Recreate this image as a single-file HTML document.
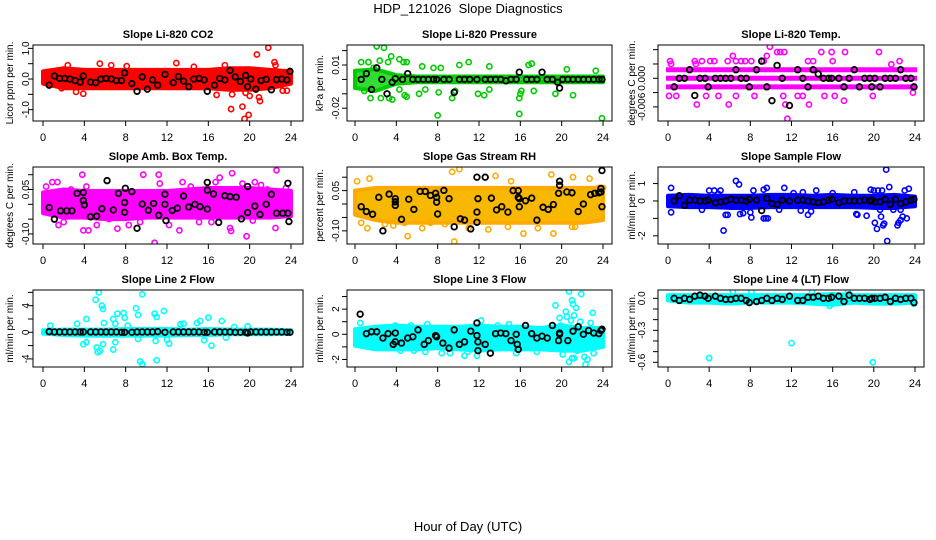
<!DOCTYPE html>
<html><head><meta charset="utf-8"><title>HDP_121026 Slope Diagnostics</title>
<style>body{margin:0;background:#fff}svg{display:block;font-family:"Liberation Sans",Arial,sans-serif}</style>
</head><body>
<svg id="chart" width="936" height="540" viewBox="0 0 936 540" xmlns="http://www.w3.org/2000/svg">
<text x="468" y="13" text-anchor="middle" font-size="13" style="white-space:pre">HDP_121026  Slope Diagnostics</text>
<text x="468" y="531" text-anchor="middle" font-size="13">Hour of Day (UTC)</text>
</svg>
<script>
// ---- shared data ----
const xTicks = [0,4,8,12,16,20,24];
const bandX = [0,2,4,6,8,10,12,14,16,18,20,22,24];
const blackX = [0.6,1.1,1.6,2.1,2.6,3.1,3.6,3.9,4.6,5.1,5.6,6.1,6.6,7.1,7.6,7.9,8.6,9.1,9.6,10.1,10.6,11.1,11.8,12.6,13.1,13.6,14.1,14.6,15.1,15.6,15.9,16.6,17.1,17.6,18.1,18.6,19.1,19.6,19.8,20.1,20.6,21.1,21.6,22.1,22.6,23.1,23.6,23.9];

// ---- CO2 ----
const co2Ticks = [1.0,0.5,0,-0.5,-1.0];
const co2TickLabels = ["1.0","","0.0","","-1.0"];
const co2Upper = [0.25,0.35,0.3,0.3,0.3,0.3,0.3,0.3,0.3,0.35,0.35,0.3,0.25];
const co2Lower = [-0.15,-0.3,-0.3,-0.3,-0.3,-0.3,-0.3,-0.3,-0.3,-0.35,-0.35,-0.3,-0.15];
const co2OutX = [1.8,3.2,3.9,5.5,6.6,12.9,16.8,17.6,18.2,18.3,19.3,19.5,19.9,20,20.7,20.9,21,21.8,22.4,22.5,23.2,23.6,19.6,18.8,2.4,8.1,14.6];
const co2OutY = [-0.3,-0.42,-0.48,0.5,0.45,0.52,-0.52,0.45,-0.98,-0.5,-0.9,-1.3,-1.17,-0.55,0.8,-0.6,-0.72,1.02,0.55,0.45,-0.38,-0.38,-0.45,-0.3,0.45,0.42,0.4];
const co2BlackY = [-0.2,0.1,0.02,0.02,0,-0.05,-0.1,0.1,-0.1,-0.12,0,0.02,0,-0.05,-0.05,0.2,-0.15,-0.4,0.07,-0.33,-0.03,-0.2,0.15,-0.12,0.08,-0.07,-0.25,0,0.02,-0.03,-0.4,-0.2,0.02,-0.03,0.28,0.07,-0.08,0.12,-0.25,0,-0.33,-0.05,-0.01,-0.35,-0.02,0,-0.03,0.25];

// ---- Pressure ----
const prsTicks = [0.02,0.01,0,-0.01,-0.02];
const prsTickLabels = ["","0.01","","","-0.02"];
const prsUpper = [0.006,0.007,0.003,0.002,0.002,0.002,0.002,0.002,0.002,0.002,0.002,0.002,0.002];
const prsLower = [-0.006,-0.008,-0.003,-0.002,-0.002,-0.002,-0.002,-0.002,-0.002,-0.002,-0.002,-0.002,-0.002];
const prsOutX = [2.1,2.8,3.5,2.4,3.2,0.6,1.3,4.3,4.7,5,1.8,6.5,7.6,8.3,11,10.1,13,16.8,17.1,20.5,23.3,0.9,1.5,2.5,3.3,3.6,4.3,4.8,5,6.2,6.8,8.1,9.4,9.7,11.9,12.5,13,15.9,16.1,17.3,19.4,21.1,8,15.9,23.9,16];
const prsOutY = [0.023,0.022,0.016,0.013,0.012,0.012,0.012,0.014,0.012,0.012,0.008,0.009,0.008,0.008,0.012,0.01,0.009,0.01,0.011,0.007,0.006,-0.008,-0.013,-0.013,-0.013,-0.014,-0.007,-0.011,-0.012,-0.01,-0.007,-0.009,-0.013,-0.008,-0.01,-0.011,-0.007,-0.013,-0.008,-0.008,-0.01,-0.011,-0.025,-0.024,-0.027,-0.01];
const prsBlackY = [0,0.004,-0.007,0.008,0,-0.01,-0.002,0.0005,0,0.004,0,0,0,0,0,0,0,0,-0.009,0,0,0,0,0,0,0,0,-0.001,0,0,0.005,0,0,0,0.005,0,0,-0.002,-0.006,0,0,0,0,0,0,0,0,0];

// ---- Li-820 Temp ----
const tmpTicks = [0.006,0.003,0,-0.003,-0.006];
const tmpTickLabels = ["","","0.000","","-0.006"];
const tmpLevels = [0.0018,0,-0.0018];
const tmpOutX = [0.2,0.3,2.6,2.7,3.3,4.1,4.5,5.8,6.3,6.6,7.1,7.5,8.1,9.3,9.6,9.9,10.6,10.9,11.3,15.9,17.2,14.9,20.5,22.5,21.7,13.6,16,14.1,0.1,0.8,3.7,2.8,4.9,5.9,11.4,11.6,13.7,12.6,13.1,17.1,19.9,23.8,8.4,6.6,11.2,15.2,16.2];
const tmpOutY = [0.0036,0.003,0.0036,0.003,0.0036,0.0036,0.0036,0.0036,0.0047,0.0036,0.0036,0.0036,0.0036,0.0036,0.0047,0.0066,0.0055,0.0055,0.0055,0.0055,0.0055,0.0055,0.0055,0.0036,0.0029,0.0036,0.0036,0.0036,-0.0037,-0.0037,-0.0037,-0.0055,-0.0037,-0.0055,-0.0055,-0.0085,-0.0055,-0.0037,-0.0037,-0.0047,-0.0037,-0.003,-0.0037,-0.0037,-0.0037,-0.0037,-0.0037];
const tmpBlackY = [-0.0018,0,0,0.0018,-0.0036,0,0,-0.0018,0,0,0,0,0.0018,0,0,-0.0018,0.0018,0.0036,-0.0018,-0.0047,0.0027,0,-0.0057,0.0018,0,-0.0018,0.0018,0.0009,0,0,0,0,-0.0018,0,0.0018,-0.0018,0,0,-0.0018,0,-0.0018,0,0,0,0.0018,0,0,-0.0018];

// ---- Amb Box Temp ----
const ambTicks = [0.1,0.05,0,-0.05,-0.1];
const ambTickLabels = ["","0.05","","","-0.10"];
const ambUpper = [0.04,0.05,0.045,0.045,0.045,0.045,0.045,0.05,0.055,0.055,0.055,0.05,0.045];
const ambLower = [-0.03,-0.045,-0.045,-0.05,-0.05,-0.045,-0.045,-0.045,-0.045,-0.045,-0.045,-0.045,-0.04];
const ambOutX = [0.3,0.9,1.4,1.5,2.7,3.6,3.8,4.2,3.9,4.4,7.2,8.3,9.7,10.8,11.2,11.3,13.5,13.2,14.3,16.7,17.1,18.3,18.1,18.2,19.7,20.5,20.3,21.1,22.6,22.5,23.5,5.2,6.4,2,9.4,12.2,15.1,16.3,19.3,21.7];
const ambOutY = [0.06,0.075,0.075,-0.07,0.05,0.04,0.1,0.06,-0.088,-0.088,-0.082,-0.07,0.1,-0.13,0.1,0.07,0.075,-0.088,0.06,0.075,0.09,0.105,-0.08,-0.09,-0.108,0.075,-0.055,0.065,0.115,-0.08,0.055,-0.07,-0.05,-0.06,-0.06,-0.07,-0.06,-0.06,0.07,0.05];
const ambBlackX = [0.6,1.1,1.7,2.3,2.8,3.3,3.9,3.9,4,4.6,5.2,5.7,6.2,6.8,7.3,7.9,7.97,7.9,8.6,9.1,9.6,10.2,10.7,11.2,11.8,11.8,11.9,12.5,13,13.6,14.1,14.7,15.2,15.9,15.9,15.9,16.5,17,17.6,18.1,18.7,19.2,19.8,19.8,20.5,21,21.6,22.1,22.6,23.2,23.7,23.7,23.8];
const ambBlackY = [-0.011,-0.05,-0.022,-0.022,-0.022,0.037,0.04,0.013,-0.002,-0.042,-0.04,-0.015,0.08,-0.019,0.037,-0.027,0.054,0.006,0.043,-0.081,0.001,-0.02,0.003,-0.037,0,0.034,-0.055,-0.021,-0.013,0.028,-0.009,0,-0.008,-0.016,0.048,0.074,0.035,-0.061,0.029,0.026,0.024,-0.049,0.06,-0.028,-0.006,-0.034,0,0.034,-0.03,-0.03,0.071,-0.03,-0.058];

// ---- Gas Stream RH ----
const rhTicks = [0.1,0.05,0,-0.05,-0.1];
const rhTickLabels = ["","0.05","","","-0.10"];
const rhUpper = [0.05,0.06,0.06,0.06,0.06,0.06,0.06,0.06,0.06,0.06,0.06,0.06,0.06];
const rhLower = [-0.04,-0.06,-0.07,-0.07,-0.07,-0.07,-0.07,-0.07,-0.07,-0.07,-0.07,-0.07,-0.06];
const rhOutX = [0.2,1.4,0.6,1.2,2.9,3.7,5.1,6.5,7.3,9.4,10.1,9.6,11,12.9,12.6,13.6,15.1,16.3,19,19.2,21,21.3,21.1,22.7,24,23.6,3.8,4.8,8.7,14.8,17.7];
const rhOutY = [0.085,0.095,-0.07,-0.09,-0.075,-0.08,-0.12,-0.09,-0.07,0.12,0.13,-0.14,-0.09,-0.095,0.1,0.105,0.085,-0.11,0.11,-0.11,-0.085,-0.085,0.1,0.095,0.06,0.06,-0.06,-0.07,-0.075,-0.085,-0.09];
const rhBlackX = [0.6,1.1,1.7,2.3,3.3,3.9,3.9,3.9,4.5,5.2,5.7,6.3,6.8,7.3,7.8,7.9,7.9,8,8.6,9.1,9.6,10.2,10.6,11.2,11.8,11.8,11.9,11.8,12.6,13.2,13.7,14.2,14.8,15.3,15.8,15.8,15.9,15.9,16.5,17.1,17.6,18.2,18.7,19.2,19.7,19.8,19.8,20.5,21,21.6,22.1,22.8,23.2,23.6,23.8,23.8,23.9,23.9,2.7];
const rhBlackY = [-0.01,-0.028,-0.038,0.025,0.037,0.02,0.008,-0.005,-0.057,0.018,-0.02,0.047,0.047,0.032,0.04,0.025,0.007,-0.037,0.051,0.02,-0.085,-0.055,-0.06,-0.093,-0.03,-0.068,0.02,0.1,0.1,0.022,-0.022,-0.01,-0.03,0.05,0.05,0.025,0.02,-0.01,0.012,0.022,-0.06,-0.012,-0.02,-0.002,0.04,0.07,0.085,0.045,0.042,-0.028,0,0.035,0.04,0.042,0.045,0.058,0.125,-0.01,-0.1];

// ---- Sample Flow ----
const sfTicks = [1,0,-1,-2];
const sfTickLabels = ["1","0","","-2"];
const sfUpper = [0.3,0.35,0.3,0.3,0.3,0.35,0.35,0.3,0.35,0.3,0.3,0.35,0.25];
const sfLower = [-0.3,-0.35,-0.35,-0.4,-0.4,-0.35,-0.35,-0.35,-0.35,-0.35,-0.4,-0.4,-0.3];
const sfOutX = [0.3,0.3,4,4.5,4.9,5.1,5.4,5.6,5.8,6.6,6.9,7,7.3,8.1,8,8.3,9.3,9.5,9.7,9.3,9.6,11.3,12.2,13.1,13.6,13.9,14.4,16,18.1,18.3,18.4,19.3,19.7,20,20.4,20.8,20.1,20.3,20.6,20.7,20.9,21,21.2,21.3,21.5,21.9,22.3,22.4,22.6,22.8,22.6,23.2,23.4,23,12.9,3.3,10.8];
const sfOutY = [0.75,-0.65,0.6,0.6,0.4,0.6,-1.7,-0.8,-0.8,1.15,0.95,-0.75,-0.7,-0.95,-0.65,0.6,-1,-1,-1,0.65,0.75,0.75,0.45,0.5,-0.8,-0.6,0.6,0.45,0.5,-0.75,-0.8,-0.85,0.65,0.6,0.6,0.6,-1.25,-1.6,-0.5,-0.9,-1.4,-1.3,1.8,-2.3,0.8,-0.5,-1.4,-1.25,-1.1,-0.9,-0.5,-1,0.7,0.6,-0.55,-0.5,-0.5];
const sfBlackY = [0,0.3,-0.25,0.05,0.05,0,0,0.05,-0.1,-0.05,0,0.1,0.05,0.05,0,0.1,0.05,-0.55,0.15,-0.15,-0.2,0.05,0,0.05,0.05,0,-0.05,-0.1,-0.05,0.05,0.1,-0.1,0,0,0,0,0.05,0,0.05,-0.05,-0.05,0.1,-0.2,0.1,-0.15,-0.05,0.05,0.1];

// ---- Line 2 Flow ----
const l2Ticks = [6,4,2,0,-2,-4];
const l2TickLabels = ["","4","","0","","-4"];
const l2Upper = [0.3,0.4,0.4,0.4,0.5,0.5,0.5,0.4,0.5,0.4,0.4,0.4,0.3];
const l2Lower = [-0.2,-0.4,-0.5,-0.5,-0.5,-0.5,-0.5,-0.4,-0.4,-0.3,-0.3,-0.3,-0.2];
const l2OutX = [0.7,3.3,4.2,4.2,3.9,5.1,5.4,5.7,5.8,5.9,5.2,5.3,5.5,5.8,6.8,7,7.2,6.8,7,7.8,7.9,8.2,9,9.2,9.6,9.4,9.6,9.2,10.8,11,11,10.9,11.7,12,12.2,13.3,13.6,14.9,15.2,16,16.3,17.3,15.6,17.7,19.8,18.5];
const l2OutY = [1,1.3,2,-1.5,-1.8,4.9,6,4,3.5,1.4,-2.3,-3,-2.8,-1.8,2,1.3,2.8,-2.6,-1.5,2.9,2.2,1,3.6,2.6,5.7,-4.4,-4.8,-1,2.8,2.3,-4.2,-1.3,3.2,-1.1,-1.7,1.2,1.3,1.4,1.7,2.2,-2,1.7,-1.2,-0.8,0.9,0.8];
const l2BlackY = [0.1,0.05,0.05,0.05,0.05,0.05,0.05,0.05,0.05,0.05,0.05,0.05,0.05,0.05,0,0,0,0.05,0.05,0.05,0.05,0.1,0,0.05,0.05,0.05,0.05,0.05,0.05,0,0,0.05,0.05,0.05,0.05,0,0,0,-0.1,0.05,0.05,0.05,0.05,0.05,0.05,0.05,0,0];

// ---- Line 3 Flow ----
const l3Ticks = [3,2,1,0,-1,-2];
const l3TickLabels = ["","2","","0","","-2"];
const l3Upper = [0.4,0.6,0.7,0.6,0.6,0.6,0.7,0.6,0.6,0.5,0.7,0.5,0.5];
const l3Lower = [-0.9,-1.2,-1.2,-1.2,-1.1,-1.2,-1.3,-1.2,-1.2,-1.2,-1.3,-1.3,-1.0];
const l3OutX = [0.5,3.9,4.4,5.4,5.7,7,6.8,8.4,9.2,10.6,11.8,12.2,13.8,14.9,15.6,17.6,19.4,19.8,19.9,20.1,20.4,20.5,20.7,20.9,21,21.1,21.2,21.4,20.7,21,21.2,21.5,21.9,21.8,22.2,22.3,22.5,22.3,23,23.1,23.4,22.8,10.9,12.8];
const l3OutY = [0.9,0.7,-1.3,0.7,-1.3,0.8,-1.4,-1.5,-1.5,-1.7,-1.7,1.1,0.7,0.8,-1.5,-1.4,2.3,1.3,0.7,-1.6,1.8,1.4,3.4,1.1,2.7,2.4,1.5,2.1,-2.2,-1.9,-1.9,-1.3,3.2,1,-1.8,-2.4,-2,-0.9,1.7,-1.5,-0.9,0.9,-1.4,-1.1];
const l3BlackX = [0.5,1.1,1.6,2.1,2.7,3.2,3.7,3.9,3.9,4.5,5.1,5.6,6.1,6.7,7.1,7.8,7.9,8.5,9.1,9.6,10.1,10.6,11.2,11.8,11.8,11.9,11.9,12.6,13.1,13.6,14.1,14.6,15.1,15.6,15.7,15.8,16.5,17.1,17.6,18.1,18.6,19.1,19.7,19.8,19.8,20.6,21.1,21.6,22.1,22.6,23.1,23.6,23.8,23.9];
const l3BlackY = [1.6,0.05,0.2,0.2,-0.3,0.05,-0.8,0.1,-0.6,-0.7,-0.3,-0.2,0.35,-0.8,-0.5,-0.1,-0.2,-0.7,-1.1,0.35,-0.8,-0.6,0.25,0.9,-0.1,-0.6,-1.3,-0.8,-1.5,0.05,0.1,0.05,-0.5,0,-0.8,-1.2,0.7,0.05,-0.3,-0.15,-0.3,0.7,-0.5,0,0.1,-0.5,0.25,0.6,0,0.3,0.1,0.05,0.3,0.4];

// ---- Line 4 Flow ----
const l4Ticks = [0,-0.1,-0.2,-0.3,-0.4,-0.5,-0.6];
const l4TickLabels = ["0.0","","","-0.3","","","-0.6"];
const l4Upper = [0.03,0.03,0.03,0.03,0.03,0.03,0.03,0.03,0.04,0.03,0.03,0.03,0.03];
const l4Lower = [-0.02,-0.04,-0.04,-0.05,-0.04,-0.04,-0.04,-0.05,-0.06,-0.04,-0.05,-0.05,-0.04];
const l4OutX = [4,12,19.9,6.3,8.1,14,17.5,15.7,23.9];
const l4OutY = [-0.56,-0.42,-0.6,0.06,0.06,0.06,0.06,-0.07,-0.05];
const l4BlackY = [0,-0.02,0,-0.01,0.02,0.03,0.02,0,0.02,0,-0.01,-0.01,0,0,-0.02,-0.04,-0.03,-0.02,0,-0.02,0,-0.01,0.02,-0.02,-0.02,0.01,0.01,0.02,0,0,0.01,0.02,-0.03,0.03,0,0,0,-0.01,0,0,0,0.01,-0.03,0,-0.01,0,0,-0.04];

// ---- layout (positions, not data) ----
const cols = [{l:33,r:303,x0:43,x24:291,lab:29,tit:13},{l:347,r:612,x0:355,x24:603,lab:339,tit:323},{l:658,r:924,x0:668,x24:915,lab:645,tit:635}];
const rows = [{t:45,b:121},{t:167,b:244},{t:290,b:367}];

const panels = [
 {name:"co2",title:"Slope Li-820 CO2",ylab:"Licor ppm per min.",c:0,r:0,dom:[-1.37,1.11],col:"#ff0000",fill:"#ff0000",ticks:co2Ticks,tl:co2TickLabels,up:co2Upper,lo:co2Lower,ox:co2OutX,oy:co2OutY,bx:blackX,by:co2BlackY},
 {name:"pressure",title:"Slope Li-820 Pressure",ylab:"kPa per min.",c:1,r:0,dom:[-0.0289,0.0239],col:"#00cc00",fill:"#33dd33",ticks:prsTicks,tl:prsTickLabels,up:prsUpper,lo:prsLower,ox:prsOutX,oy:prsOutY,bx:blackX,by:prsBlackY},
 {name:"licor-temp",title:"Slope Li-820 Temp.",ylab:"degrees C per min.",c:2,r:0,dom:[-0.00896,0.00698],col:"#ff00ff",fill:"#ff00ff",ticks:tmpTicks,tl:tmpTickLabels,levels:tmpLevels,ox:tmpOutX,oy:tmpOutY,bx:blackX,by:tmpBlackY},
 {name:"amb-box-temp",title:"Slope Amb. Box Temp.",ylab:"degrees C per min.",c:0,r:1,dom:[-0.134,0.126],col:"#ff00ff",fill:"#ff00ff",ticks:ambTicks,tl:ambTickLabels,up:ambUpper,lo:ambLower,ox:ambOutX,oy:ambOutY,bx:ambBlackX,by:ambBlackY},
 {name:"gas-stream-rh",title:"Slope Gas Stream RH",ylab:"percent per min.",c:1,r:1,dom:[-0.149,0.138],col:"#ffaa00",fill:"#f8b800",ticks:rhTicks,tl:rhTickLabels,up:rhUpper,lo:rhLower,ox:rhOutX,oy:rhOutY,bx:rhBlackX,by:rhBlackY},
 {name:"sample-flow",title:"Slope Sample Flow",ylab:"ml/min per min.",c:2,r:1,dom:[-2.47,1.95],col:"#0000ff",fill:"#0000ff",ticks:sfTicks,tl:sfTickLabels,up:sfUpper,lo:sfLower,ox:sfOutX,oy:sfOutY,bx:blackX,by:sfBlackY},
 {name:"line2-flow",title:"Slope Line 2 Flow",ylab:"ml/min per min.",c:0,r:2,dom:[-5.22,6.36],col:"#00ffff",fill:"#00ffff",ticks:l2Ticks,tl:l2TickLabels,up:l2Upper,lo:l2Lower,ox:l2OutX,oy:l2OutY,bx:blackX,by:l2BlackY},
 {name:"line3-flow",title:"Slope Line 3 Flow",ylab:"ml/min per min.",c:1,r:2,dom:[-2.6,3.52],col:"#00ffff",fill:"#00ffff",ticks:l3Ticks,tl:l3TickLabels,up:l3Upper,lo:l3Lower,ox:l3OutX,oy:l3OutY,bx:l3BlackX,by:l3BlackY},
 {name:"line4-flow",title:"Slope Line 4 (LT) Flow",ylab:"ml/min per min.",c:2,r:2,dom:[-0.644,0.078],col:"#00ffff",fill:"#00ffff",ticks:l4Ticks,tl:l4TickLabels,up:l4Upper,lo:l4Lower,ox:l4OutX,oy:l4OutY,bx:blackX,by:l4BlackY}
];

const NS = "http://www.w3.org/2000/svg";
const svg = document.getElementById("chart");
function mk(tag, attrs, parent){
  const e = document.createElementNS(NS, tag);
  for (const k in attrs) e.setAttribute(k, attrs[k]);
  (parent||svg).appendChild(e);
  return e;
}

panels.forEach(p => {
  const C = cols[p.c], R = rows[p.r];
  const xs = h => C.x0 + (C.x24 - C.x0) * h / 24;
  const ys = v => R.b - (v - p.dom[0]) / (p.dom[1] - p.dom[0]) * (R.b - R.t);
  const g = mk("g", {});
  
  
  const clipId = "clip-" + p.name;
  const cp = mk("clipPath", {id: clipId}, g);
  mk("rect", {x:C.l, y:R.t, width:C.r-C.l, height:R.b-R.t}, cp);
  const plot = mk("g", {"clip-path": "url(#" + clipId + ")"}, g);

  if (p.up) {
    let pts = bandX.map((h,i) => xs(h) + "," + ys(p.up[i]));
    pts = pts.concat(bandX.slice().reverse().map((h,j) => { const i = bandX.length-1-j; return xs(h) + "," + ys(p.lo[i]); }));
    const band = mk("polygon", {points: pts.join(" "), fill: p.fill, stroke: p.col, "stroke-width": 4, "stroke-linejoin": "round"}, plot);
    
    
  }
  if (p.levels) {
    p.levels.forEach(lv => {
      const ln = mk("line", {x1: xs(0)-2, x2: xs(24)+2, y1: ys(lv), y2: ys(lv), stroke: p.col, "stroke-width": 5}, plot);
      
      
    });
  }
  p.ox.forEach((h,i) => {
    const c = mk("circle", {cx: xs(h), cy: ys(p.oy[i]), r: 2.6, fill: "none", stroke: p.col, "stroke-width": 1.6}, plot);
    
    
  });
  const n = Math.min(p.bx.length, p.by.length);
  for (let i = 0; i < n; i++) {
    const c = mk("circle", {cx: xs(p.bx[i]), cy: ys(p.by[i]), r: 2.8, fill: "none", stroke: "#000", "stroke-width": 1.8}, plot);
    
    
  }
  const fr = mk("rect", {x:C.l, y:R.t, width:C.r-C.l, height:R.b-R.t, fill:"none", stroke:"#000", "stroke-width":1}, g);
  
  
  const t = mk("text", {x:(C.l+C.r)/2, y:R.t-7, "text-anchor":"middle", "font-size":11, "font-weight":"bold"}, g);
  t.textContent = p.title;
  
  
  xTicks.forEach(h => {
    mk("line", {x1:xs(h), x2:xs(h), y1:R.b, y2:R.b+5, stroke:"#000"}, g);
    const tx = mk("text", {x:xs(h), y:R.b+20, "text-anchor":"middle", "font-size":11}, g);
    tx.textContent = h;
    
    
  });
  p.ticks.forEach((v,i) => {
    mk("line", {x1:C.l-5, x2:C.l, y1:ys(v), y2:ys(v), stroke:"#000"}, g);
    if (p.tl[i]) {
      const ty = mk("text", {x:0, y:0, transform:"translate(" + C.lab + "," + ys(v) + ") rotate(-90)", "text-anchor":"middle", "font-size":10}, g);
      ty.textContent = p.tl[i];
      
      
    }
  });
  const yt = mk("text", {x:0, y:0, transform:"translate(" + C.tit + "," + (R.t+R.b)/2 + ") rotate(-90)", "text-anchor":"middle", "font-size":10}, g);
  yt.textContent = p.ylab;
  
  
});
</script>
</body></html>
